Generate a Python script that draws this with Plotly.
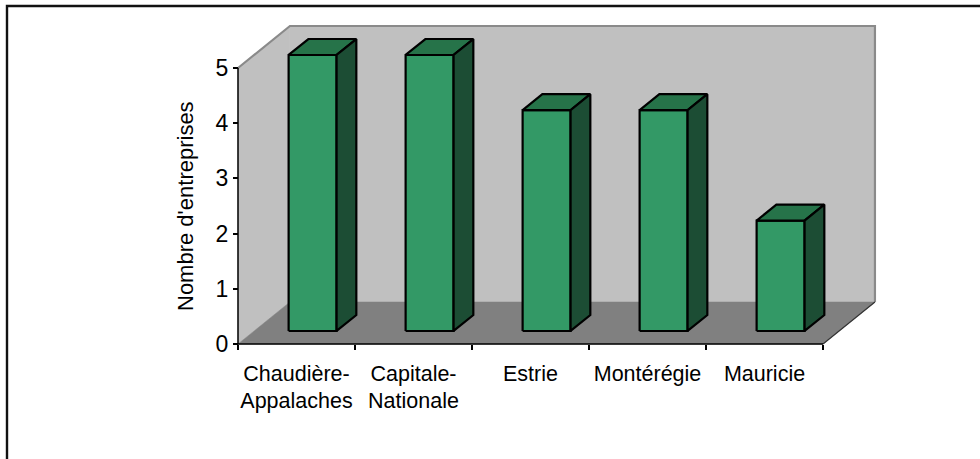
import plotly.graph_objects as go

# ---- data ----
categories = ["Chaudière-<br>Appalaches", "Capitale-<br>Nationale", "Estrie", "Montérégie", "Mauricie"]
values = [5, 5, 4, 4, 2]
y_ticks = [0, 1, 2, 3, 4, 5]
y_title = "Nombre d'entreprises"

# ---- geometry (data units) ----
n = len(categories)
ymax = max(y_ticks)
DX, DY = 0.444, 0.761          # wall depth offset
BW = 0.41                      # bar width
FA, FB = 0.31, 0.69            # bar front/back depth fraction

FONT = "Liberation Sans, Arial, sans-serif"
WALL = "#c0c0c0"
FLOOR = "#808080"
EDGE = "#8a8a8a"
FRONT = "#339966"
TOP = "#267349"
SIDE = "#1c4d34"

fig = go.Figure()

def poly(xs, ys, fill, line_color, lw):
    fig.add_trace(go.Scatter(x=xs + [xs[0]], y=ys + [ys[0]], mode="lines", fill="toself",
                             fillcolor=fill, line=dict(color=line_color, width=lw),
                             hoverinfo="skip", showlegend=False))

# walls
poly([0, DX, DX, 0], [0, DY, ymax + DY, ymax], WALL, WALL, 0.5)
poly([DX, n + DX, n + DX, DX], [DY, DY, ymax + DY, ymax + DY], WALL, WALL, 0.5)
poly([0, DX, n + DX, n], [0, DY, DY, 0], FLOOR, FLOOR, 0.5)
# wall edges
fig.add_trace(go.Scatter(x=[0, DX, n + DX, n + DX], y=[ymax, ymax + DY, ymax + DY, DY], mode="lines",
                         line=dict(color=EDGE, width=2.2), hoverinfo="skip", showlegend=False))
fig.add_trace(go.Scatter(x=[n, n + DX], y=[0, DY], mode="lines",
                         line=dict(color="#333333", width=1.2), hoverinfo="skip", showlegend=False))

# bars
ox, oy = FA * DX, FA * DY
bx, by = (FB - FA) * DX, (FB - FA) * DY
for i, v in enumerate(values):
    L = i + 0.5 - BW / 2 + ox
    R = L + BW
    b = oy
    t = v + oy
    poly([L, R, R, L], [b, b, t, t], FRONT, "black", 2.2)
    poly([L, R, R + bx, L + bx], [t, t, t + by, t + by], TOP, "black", 2.2)
    poly([R, R + bx, R + bx, R], [b, b + by, t + by, t], SIDE, "black", 2.2)

# axis lines
fig.add_trace(go.Scatter(x=[0, 0, n], y=[ymax, 0, 0], mode="lines",
                         line=dict(color="black", width=1.5), hoverinfo="skip", showlegend=False))

# pixel layout
PL, PR, PT, PB = 228, 890, 18, 354
X0PX, Y0PX = 238, 344
XS, YS = 117.0, 55.2
xr = [(PL - X0PX) / XS, (PR - X0PX) / XS]
yr = [(Y0PX - PB) / YS, (Y0PX - PT) / YS]
W, H = 980, 459

def px_x(p):
    return (p - PL) / (PR - PL)

def px_y(p):
    return (PB - p) / (PB - PT)

fig.update_layout(
    width=W, height=H,
    margin=dict(l=PL, r=W - PR, t=PT, b=H - PB, pad=0),
    paper_bgcolor="white", plot_bgcolor="rgba(0,0,0,0)",
    font=dict(family=FONT, size=21, color="black"),
    xaxis=dict(range=xr, anchor="free", position=px_y(Y0PX),
               tickmode="array", tickvals=[i + 0.5 for i in range(n)], ticktext=categories,
               ticks="", showline=False, showgrid=False, zeroline=False,
               ticklabelstandoff=14,
               minor=dict(tickmode="array", tickvals=list(range(n + 1)), ticks="outside",
                          ticklen=5, tickwidth=1.5, tickcolor="black", showgrid=False),
               tickfont=dict(size=21.5), fixedrange=True),
    yaxis=dict(range=yr, anchor="free", position=px_x(X0PX),
               tickmode="array", tickvals=y_ticks, ticks="outside", ticklen=5,
               tickwidth=1.5, tickcolor="black", showline=False, showgrid=False,
               zeroline=False, tickfont=dict(size=23), fixedrange=True),
    annotations=[dict(text=y_title, xref="paper", yref="paper", x=px_x(185), y=px_y(206),
                      textangle=-90, showarrow=False, xanchor="center", yanchor="middle",
                      font=dict(size=22, family=FONT, color="black"))],
    shapes=[dict(type="path", xref="paper", yref="paper",
                 path=f"M {px_x(7)} {px_y(470)} L {px_x(7)} {px_y(6)} L {px_x(990)} {px_y(6)}",
                 line=dict(color="#111111", width=2.4))],
)

fig.write_html("out.html", config={"displayModeBar": False},
               post_script="document.body.style.margin='0';")
